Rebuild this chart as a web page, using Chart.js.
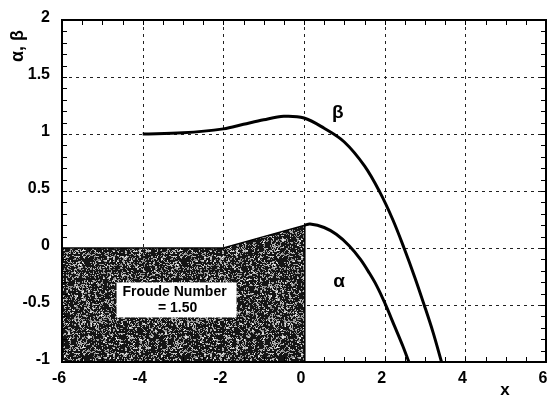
<!DOCTYPE html>
<html><head><meta charset="utf-8">
<script src="https://cdn.jsdelivr.net/npm/chart.js@4.4.1/dist/chart.umd.min.js"></script>
<style>html,body{margin:0;padding:0;background:#fff;}</style>
</head><body>
<canvas id="c" width="549" height="395"></canvas>
<script>
// ---- data ----
const betaX  = [-4, -3, -2, -1.5, -1, -0.5, 0, 0.5, 1, 1.5, 1.88, 2.2, 2.48, 2.75, 2.98, 3.2, 3.41];
const betaY  = [1.0, 1.01, 1.045, 1.085, 1.125, 1.155, 1.14, 1.05, 0.93, 0.72, 0.49, 0.25, 0.0, -0.26, -0.5, -0.74, -1.0];
const alphaX = [0.02, 0.15, 0.5, 0.8, 1.12, 1.4, 1.62, 1.8, 2.0, 2.25, 2.45, 2.6];
const alphaY = [0.2, 0.21, 0.18, 0.12, 0.02, -0.1, -0.22, -0.33, -0.48, -0.69, -0.86, -1.0];
const groundX = [-6, -2, -1, 0.02, 0.02];
const groundY = [0, 0, 0.1, 0.2, -1];
const xTicks = [-6, -4, -2, 0, 2, 4, 6];
const yTicks = [-1, -0.5, 0, 0.5, 1, 1.5, 2];
const xTickLabels = ['-6', '-4', '-2', '0', '2', '4', '6'];
const yTickLabels = ['-1', '-0.5', '0', '0.5', '1', '1.5', '2'];
const xMinorStep = 0.5;
const yMinorStep = 0.1;
const xTitle = 'x';
const yTitle = 'α, β';
const boxLines = ['Froude Number', '= 1.50'];
const boxCenter = [-3.16, -0.46];
const alphaLabel = ['α', 0.87, -0.3];
const betaLabel = ['β', 0.84, 1.19];

const FONT = '"Liberation Sans", Arial, sans-serif';

function pts(xs, ys) { return xs.map((x, i) => ({x: x, y: ys[i]})); }

function hash(x, y) {
  let h = (x * 374761393 + y * 668265263) | 0;
  h = Math.imul(h ^ (h >>> 13), 1274126177);
  h = (h ^ (h >>> 16)) >>> 0;
  return (h % 1000) / 1000;
}

// stipple pattern for the channel bed (style only)
function makePattern() {
  const n = 97;
  const c = document.createElement('canvas');
  c.width = n; c.height = n;
  const g = c.getContext('2d');
  const img = g.createImageData(n, n);
  for (let y = 0; y < n; y++) {
    for (let x = 0; x < n; x++) {
      const r = 0.5 * hash(x, y) + 0.5 * hash(x >> 1, (y >> 1) + 500);
      const v = r < 0.6 ? 20 : 120 + Math.floor((r - 0.6) / 0.4 * 135);
      const k = (y * n + x) * 4;
      img.data[k] = v; img.data[k + 1] = v; img.data[k + 2] = v; img.data[k + 3] = 255;
    }
  }
  g.putImageData(img, 0, 0);
  return document.getElementById('c').getContext('2d').createPattern(c, 'repeat');
}

const decor = {
  id: 'decor',
  beforeDatasetsDraw(chart) {
    const {ctx, chartArea: a, scales: {x, y}} = chart;
    ctx.save();
    ctx.strokeStyle = '#222';
    ctx.lineWidth = 1;
    ctx.setLineDash([3, 4]);
    xTicks.slice(1, -1).forEach(v => {
      const px = Math.round(x.getPixelForValue(v)) + 0.5;
      ctx.beginPath(); ctx.moveTo(px, a.top); ctx.lineTo(px, a.bottom); ctx.stroke();
    });
    yTicks.slice(1, -1).forEach(v => {
      const py = Math.round(y.getPixelForValue(v)) + 0.5;
      ctx.beginPath(); ctx.moveTo(a.left, py); ctx.lineTo(a.right, py); ctx.stroke();
    });
    ctx.restore();
  },
  afterDatasetsDraw(chart) {
    const {ctx, chartArea: a, scales: {x, y}} = chart;
    ctx.save();
    ctx.strokeStyle = '#000';
    ctx.lineWidth = 1;
    const L = 5;
    for (let v = x.min + xMinorStep; v < x.max - 1e-9; v += xMinorStep) {
      const px = Math.round(x.getPixelForValue(v)) + 0.5;
      ctx.beginPath(); ctx.moveTo(px, a.bottom); ctx.lineTo(px, a.bottom - L); ctx.stroke();
      ctx.beginPath(); ctx.moveTo(px, a.top); ctx.lineTo(px, a.top + L); ctx.stroke();
    }
    for (let v = y.min + yMinorStep; v < y.max - 1e-9; v += yMinorStep) {
      const py = Math.round(y.getPixelForValue(v)) + 0.5;
      ctx.beginPath(); ctx.moveTo(a.left, py); ctx.lineTo(a.left + L, py); ctx.stroke();
      ctx.beginPath(); ctx.moveTo(a.right, py); ctx.lineTo(a.right - L, py); ctx.stroke();
    }
    ctx.lineWidth = 2;
    ctx.strokeRect(a.left, a.top, a.right - a.left, a.bottom - a.top);

    const cx = x.getPixelForValue(boxCenter[0]);
    const cy = y.getPixelForValue(boxCenter[1]);
    ctx.fillStyle = '#fff';
    ctx.fillRect(cx - 60, cy - 18, 120, 35);
    ctx.fillStyle = '#000';
    ctx.font = 'bold 14px ' + FONT;
    ctx.textAlign = 'center';
    ctx.textBaseline = 'middle';
    ctx.fillText(boxLines[0], cx - 2, cy - 8);
    ctx.fillText(boxLines[1], cx + 1, cy + 8);

    ctx.font = 'bold 19px ' + FONT;
    ctx.fillText(alphaLabel[0], x.getPixelForValue(alphaLabel[1]), y.getPixelForValue(alphaLabel[2]));
    ctx.fillText(betaLabel[0], x.getPixelForValue(betaLabel[1]), y.getPixelForValue(betaLabel[2]));

    ctx.font = 'bold 17px ' + FONT;
    ctx.fillText(xTitle, a.right - 41, a.bottom + 28);
    ctx.save();
    ctx.translate(18, a.top + 26);
    ctx.rotate(-Math.PI / 2);
    ctx.font = 'bold 18px ' + FONT;
    ctx.fillText(yTitle, 0, 0);
    ctx.restore();
    ctx.restore();
  }
};

const chart = new Chart(document.getElementById('c'), {
  type: 'scatter',
  data: {
    datasets: [
      {
        label: 'ground', data: pts(groundX, groundY), showLine: true,
        borderColor: '#000', borderWidth: 1.5, backgroundColor: makePattern(),
        fill: 'start', tension: 0, pointRadius: 0
      },
      {
        label: 'beta', data: pts(betaX, betaY), showLine: true,
        borderColor: '#000', borderWidth: 3, tension: 0.35,
        fill: false, pointRadius: 0
      },
      {
        label: 'alpha', data: pts(alphaX, alphaY), showLine: true,
        borderColor: '#000', borderWidth: 3, tension: 0.35,
        fill: false, pointRadius: 0
      }
    ]
  },
  options: {
    responsive: false,
    animation: false,
    devicePixelRatio: 1,
    layout: {padding: {left: 0, right: 3, top: 20, bottom: 0}},
    plugins: {legend: {display: false}, tooltip: {enabled: false}},
    scales: {
      x: {
        type: 'linear', min: -6, max: 6,
        afterBuildTicks: s => { s.ticks = xTicks.map(v => ({value: v})); },
        afterFit: s => { s.height = 33; s.paddingLeft = 0; s.paddingRight = 0; },
        grid: {display: false, drawTicks: false},
        border: {display: false},
        ticks: {
          color: '#000', padding: 7, maxRotation: 0, autoSkip: false, labelOffset: -3,
          font: {family: FONT, size: 16, weight: 'bold'},
          callback: (v) => xTickLabels[xTicks.indexOf(v)]
        }
      },
      y: {
        type: 'linear', min: -1, max: 2,
        afterBuildTicks: s => { s.ticks = yTicks.map(v => ({value: v})); },
        afterFit: s => { s.width = 62; s.paddingTop = 0; s.paddingBottom = 0; },
        grid: {display: false, drawTicks: false},
        border: {display: false},
        ticks: {
          color: '#000', padding: 12, autoSkip: false, labelOffset: -2,
          font: {family: FONT, size: 16, weight: 'bold'},
          callback: (v) => yTickLabels[yTicks.indexOf(v)]
        }
      }
    }
  },
  plugins: [decor]
});
</script>
</body></html>
